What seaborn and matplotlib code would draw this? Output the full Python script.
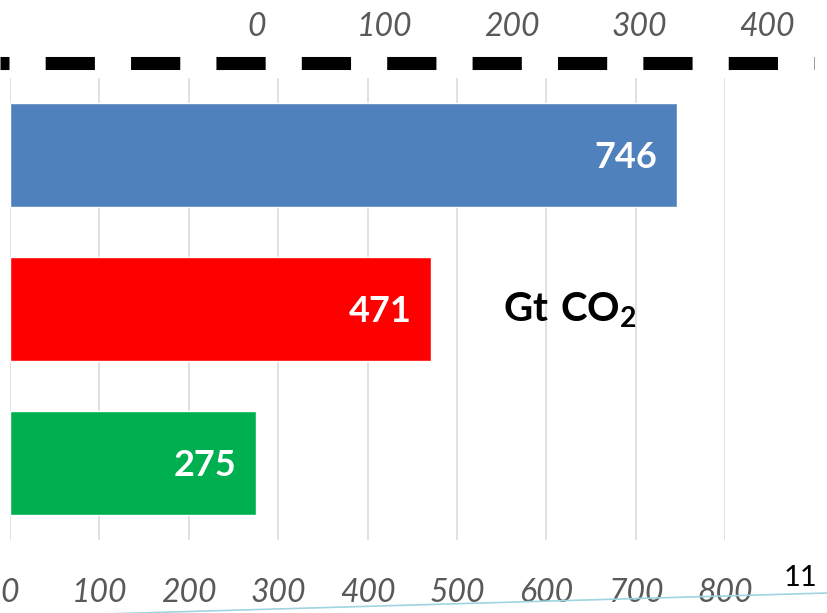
import matplotlib
matplotlib.use("Agg")
import matplotlib.pyplot as plt
from matplotlib.lines import Line2D
import seaborn as sns
import pandas as pd

# chart data
categories = ["Budget A", "Budget B", "Budget C"]
values = [746, 471, 275]
bar_colors = ["#4F81BD", "#FF0000", "#00B050"]
bottom_ticks = [0, 100, 200, 300, 400, 500, 600, 700, 800]
top_ticks = [0, 100, 200, 300, 400]
unit_label = r"$\mathbf{Gt\ CO_2}$"
slide_number = "11"

sns.set_style("white")
plt.rcParams["font.family"] = ["Lato", "DejaVu Sans"]
plt.rcParams["mathtext.fontset"] = "custom"
plt.rcParams["mathtext.bf"] = "Lato:bold"
plt.rcParams["mathtext.rm"] = "Lato:bold"

W, H = 827, 613
fig = plt.figure(figsize=(W / 100, H / 100), dpi=100)

# main bar axes (pixel layout from the reference)
ax = fig.add_axes([10 / W, 1 - 540 / H, 715 / W, 462 / H])
df = pd.DataFrame({"cat": categories, "val": values})
sns.barplot(data=df, x="val", y="cat", hue="cat", palette=bar_colors,
            orient="h", width=0.67, legend=False, saturation=1, ax=ax)
ax.set_xlim(0, 800)
ax.set_xticks(bottom_ticks)
ax.set_xticklabels([str(t) for t in bottom_ticks])
ax.set_yticks([])
ax.set_xlabel("")
ax.set_ylabel("")
for s in ax.spines.values():
    s.set_visible(False)
ax.grid(axis="x", color="#D9D9D9", linewidth=1.1)
ax.set_axisbelow(True)
ax.tick_params(axis="x", length=0, pad=27, labelsize=23, labelcolor="#595959")
for lab in ax.get_xticklabels():
    lab.set_fontstyle("italic")

for i, v in enumerate(values):
    ax.annotate(str(v), xy=(v, i), xytext=(-14, 0), textcoords="offset points",
                ha="right", va="center_baseline", color="white",
                fontsize=26, fontweight="bold")

ax.text(552, 1.08, unit_label, ha="left", va="baseline", fontsize=29,
        color="black")

# secondary (top) axis with the dashed line
ax2 = fig.add_axes([0, 1 - 63.5 / H, 814 / W, 1 / H])
ax2.set_xlim(-201.6, 436.9)
ax2.set_ylim(0, 1)
ax2.set_xticks(top_ticks)
ax2.set_xticklabels([str(t) for t in top_ticks])
ax2.set_yticks([])
ax2.patch.set_alpha(0)
for s in ax2.spines.values():
    s.set_visible(False)
ax2.xaxis.set_ticks_position("top")
ax2.tick_params(axis="x", length=0, pad=15, labelsize=23, labelcolor="#595959",
                labeltop=True, labelbottom=False)
for lab in ax2.get_xticklabels():
    lab.set_fontstyle("italic")
lw = 9.4
ax2.axhline(1, color="black", linewidth=lw, clip_on=False,
            linestyle=(3.08, (3.77, 2.77)), solid_capstyle="butt")

# slide decorations
fig.add_artist(Line2D([0, 1], [1 - 617 / H, 1 - 593 / H], color="#9FD4E0",
                      linewidth=1.2, transform=fig.transFigure))
fig.text(801 / W, 1 - 578 / H, slide_number, ha="center", va="center",
         fontsize=21, color="black")

fig.savefig("out.png", dpi=100)
